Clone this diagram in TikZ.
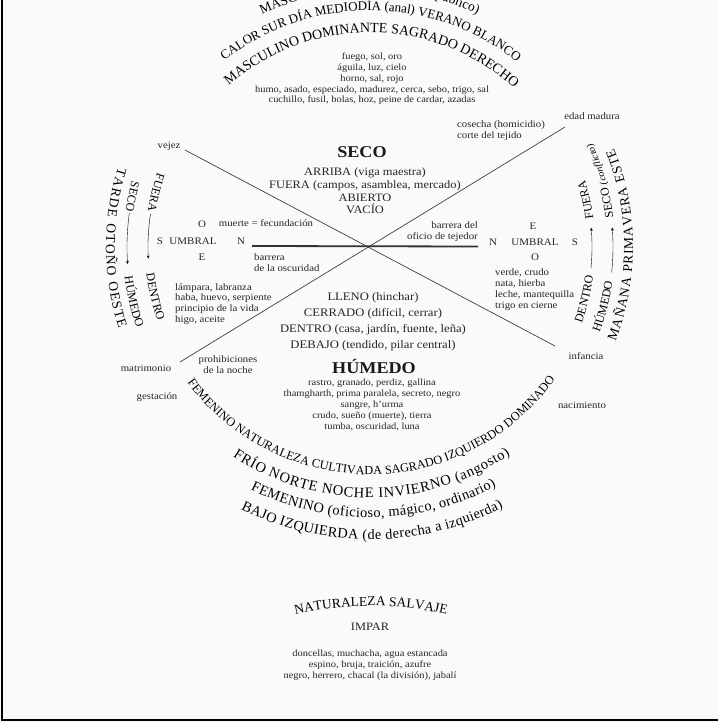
\documentclass[tikz,border=0pt]{standalone}
\usepackage{fontspec}
\setmainfont{Liberation Serif}[FakeStretch=1.1]
\newfontfamily\arcfont{Liberation Serif}
\usetikzlibrary{arrows, decorations.text}

\tikzstyle{smalltext} = [font=\fontsize{9.5}{10.8}\selectfont,
align=center,
inner sep=0pt,
text=black!85]
\tikzstyle{sidetext} = [font=\fontsize{9.8}{10.8}\selectfont,
inner sep=0pt,
text=black!85]
\tikzstyle{caps} = [font=\fontsize{11.3}{12.7}\selectfont,
align=center,
inner sep=0pt,
text=black!85]
\tikzstyle{bigword} = [font=\fontsize{16.5}{18}\selectfont\bfseries,
inner sep=0pt,
text=black!90]
\tikzstyle{divline} = [draw=black!75, line width=0.7pt]
\tikzstyle{sidearrow} = [thin,->,>=stealth]

% text on an arc: centre, radius, middle angle, size, text
\newcommand{\cwtext}[5]{%
\path[decorate, decoration={text along path, text align=center,
text={|\arcfont\fontsize{#4}{#4}\selectfont|#5}}]
(#1) ++(#3+80:#2) arc[start angle=#3+80, end angle=#3-80, radius=#2];}
\newcommand{\ccwtext}[5]{%
\path[decorate, decoration={text along path, text align=center,
text={|\arcfont\fontsize{#4}{#4}\selectfont|#5}}]
(#1) ++(#3-80:#2) arc[start angle=#3-80, end angle=#3+80, radius=#2];}
% same, spread between two angles
\newcommand{\ccwfit}[6]{%
\path[decorate, decoration={text along path, text align=fit to path,
text={|\arcfont\fontsize{#5}{#5}\selectfont|#6}}]
(#1) ++(#3:#2) arc[start angle=#3, end angle=#4, radius=#2];}

\begin{document}
\begin{tikzpicture}[x=1pt, y=1pt]
\useasboundingbox (0,0) rectangle (718,-723);
\fill[black!2] (0,0) rectangle (718,-723);
\draw[line width=2pt] (1.5,0) -- (1.5,-720) -- (718,-720);

\coordinate (ctr) at (370,-247);
\coordinate (wildctr) at (371,-944);

% upper arcs
\cwtext{ctr}{214.5}{89.5}{14}{MASCULINO DOMINANTE SAGRADO DERECHO}
\cwtext{ctr}{236.5}{89.8}{13}{CALOR SUR DÍA MEDIODÍA (anal) VERANO BLANCO}
\cwtext{ctr}{256.5}{90.1}{13.5}{MASCULINO (oficial, político, público)}
\cwtext{ctr}{276.5}{90.3}{13.5}{ALTO DERECHA (de izquierda a derecha)}

% lower arcs
\ccwtext{ctr}{227.5}{270.5}{12.3}{FEMENINO NATURALEZA CULTIVADA SAGRADO IZQUIERDO DOMINADO}
\ccwfit{ctr}{250.5}{236.8}{304}{14.5}{FRÍO NORTE NOCHE INVIERNO (angosto)}
\ccwfit{ctr}{270.5}{243.8}{297.8}{14.3}{FEMENINO (oficioso, mágico, ordinario)}
\ccwfit{ctr}{292.5}{243.8}{297.1}{14.3}{BAJO IZQUIERDA (de derecha a izquierda)}

% west side
\ccwfit{ctr}{264}{162.5}{198}{13.5}{TARDE OTOÑO OESTE}
\ccwtext{ctr}{247}{168}{12}{SECO}
\ccwtext{ctr}{247}{193}{12}{HÚMEDO}
\ccwtext{ctr}{225}{165.8}{12}{FUERA}
\ccwtext{ctr}{225}{193}{12}{DENTRO}
\draw[sidearrow] (ctr) ++(171.5:222) arc[start angle=171.5, end angle=183, radius=222];
\draw[sidearrow] (ctr) ++(172:243) arc[start angle=172, end angle=184, radius=243];

% east side
\ccwfit{ctr}{263}{-21}{22}{13.5}{MAÑANA PRIMAVERA ESTE}
\ccwtext{ctr}{245}{16}{12}{SECO |\itshape\fontsize{9.5}{9.5}\selectfont|(conflicto)}
\ccwtext{ctr}{245}{-14.3}{12}{HÚMEDO}
\ccwtext{ctr}{225}{12.3}{12}{FUERA}
\ccwtext{ctr}{225}{-13.6}{12}{DENTRO}
\draw[sidearrow] (ctr) ++(-5.5:222) arc[start angle=-5.5, end angle=5, radius=222];
\draw[sidearrow] (ctr) ++(-6:243) arc[start angle=-6, end angle=4.6, radius=243];

\node (toplist) [smalltext] at (372,-79) {fuego, sol, oro\\águila, luz, cielo\\horno, sal, rojo\\humo, asado, especiado, madurez, cerca, sebo, trigo, sal\\cuchillo, fusil, bolas, hoz, peine de cardar, azadas};

\node (seco) [bigword] at (362,-152) {SECO};
\node (secolist) [caps] at (365,-191) {ARRIBA (viga maestra)\\FUERA (campos, asamblea, mercado)\\ABIERTO\\VACÍO};
\node (llenolist) [caps, font=\fontsize{11.5}{16}\selectfont] at (373,-322) {LLENO (hinchar)\\CERRADO (difícil, cerrar)\\DENTRO (casa, jardín, fuente, leña)\\DEBAJO (tendido, pilar central)};
\node (humedo) [bigword] at (374,-366) {HÚMEDO};
\node (humlist) [smalltext] at (372,-405) {rastro, granado, perdiz, gallina\\thamgharth, prima paralela, secreto, negro\\sangre, h'urma\\crudo, sueño (muerte), tierra\\tumba, oscuridad, luna};

% the cross
\coordinate (nw) at (185,-150);
\coordinate (se) at (555,-346);
\coordinate (sw) at (180,-362);
\coordinate (ne) at (565,-127);
\coordinate (hl) at (252,-246);
\coordinate (hr) at (478,-246.5);
\draw[divline] (nw) -- (se);
\draw[divline] (sw) -- (ne);
\draw[draw=black!80, line width=1.8pt] (hl) -- (hr);

% west threshold
\node (wo) [caps, font=\fontsize{10}{10}\selectfont] at (202,-224) {O};
\node (ws) [caps, font=\fontsize{10}{10}\selectfont] at (160,-241) {S};
\node (wumbral) [caps, font=\fontsize{10}{10}\selectfont] at (193,-241) {UMBRAL};
\node (wn) [caps, font=\fontsize{10}{10}\selectfont] at (241,-241) {N};
\node (we) [caps, font=\fontsize{10}{10}\selectfont] at (202,-257) {E};
\node (muerte) [sidetext] at (266,-223) {muerte = fecundación};
\node (barrosc) [sidetext, align=left, anchor=west] at (254,-262.5) {barrera\\de la oscuridad};
\node (wlist) [sidetext, align=left, anchor=west] at (175,-304) {lámpara, labranza\\haba, huevo, serpiente\\principio de la vida\\higo, aceite};
\node (prohib) [sidetext, align=center] at (228,-365) {prohibiciones\\de la noche};
\node (matrim) [sidetext] at (146,-368) {matrimonio};
\node (gest) [sidetext] at (157,-397) {gestación};
\node (vejez) [sidetext] at (169,-146) {vejez};

% east threshold
\node (ee) [caps, font=\fontsize{10}{10}\selectfont] at (533,-226) {E};
\node (en) [caps, font=\fontsize{10}{10}\selectfont] at (493,-242) {N};
\node (eumbral) [caps, font=\fontsize{10}{10}\selectfont] at (535,-242) {UMBRAL};
\node (es) [caps, font=\fontsize{10}{10}\selectfont] at (575,-242) {S};
\node (eo) [caps, font=\fontsize{10}{10}\selectfont] at (535,-257) {O};
\node (cosecha) [sidetext, align=left, anchor=west] at (457,-131) {cosecha (homicidio)\\corte del tejido};
\node (madura) [sidetext] at (592,-116) {edad madura};
\node (barrtej) [sidetext, align=right, anchor=east] at (478,-232) {barrera del\\oficio de tejedor};
\node (elist) [sidetext, align=left, anchor=west] at (495,-289.5) {verde, crudo\\nata, hierba\\leche, mantequilla\\trigo en cierne};
\node (infancia) [sidetext] at (586,-356) {infancia};
\node (nacim) [sidetext] at (582,-405) {nacimiento};

% wild nature
\cwtext{wildctr}{338}{90}{13.5}{NATURALEZA SALVAJE}
\node (impar) [caps] at (370,-627) {IMPAR};
\node (wildlist) [smalltext] at (370,-665) {doncellas, muchacha, agua estancada\\espino, bruja, traición, azufre\\negro, herrero, chacal (la división), jabalí};

\end{tikzpicture}
\end{document}
